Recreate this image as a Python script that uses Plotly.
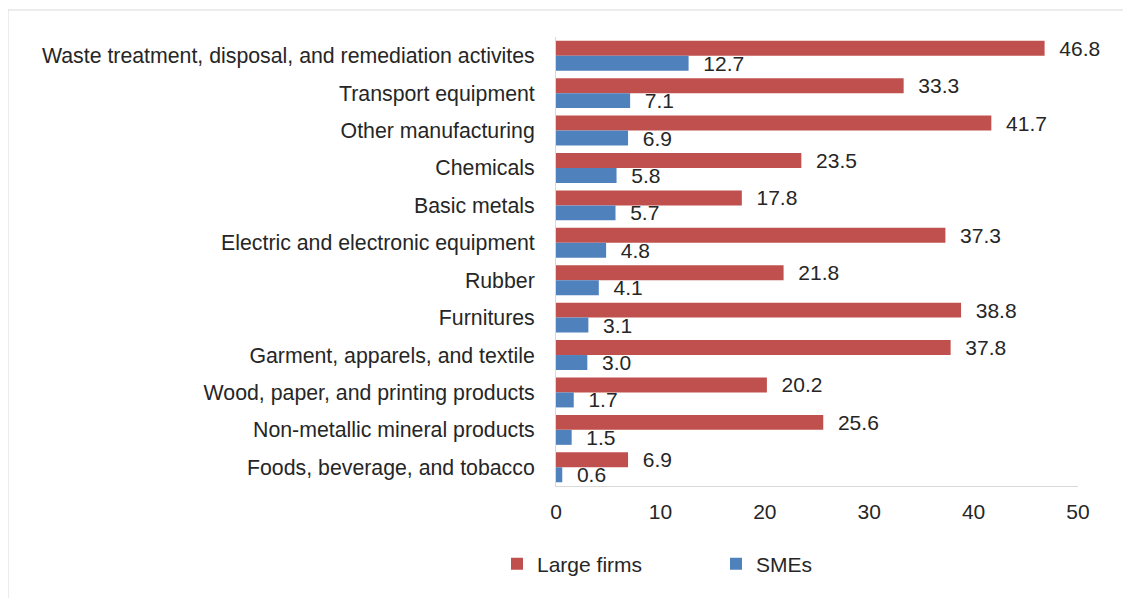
import plotly.graph_objects as go

categories = [
    "Waste treatment, disposal, and remediation activites",
    "Transport equipment",
    "Other manufacturing",
    "Chemicals",
    "Basic metals",
    "Electric and electronic equipment",
    "Rubber",
    "Furnitures",
    "Garment, apparels, and textile",
    "Wood, paper, and printing products",
    "Non-metallic mineral products",
    "Foods, beverage, and tobacco",
]
large_firms = [46.8, 33.3, 41.7, 23.5, 17.8, 37.3, 21.8, 38.8, 37.8, 20.2, 25.6, 6.9]
smes = [12.7, 7.1, 6.9, 5.8, 5.7, 4.8, 4.1, 3.1, 3.0, 1.7, 1.5, 0.6]
x_ticks = [0, 10, 20, 30, 40, 50]

# page body has an 8px default margin; work in figure pixels = screen - 8
OFF = 8
W, H = 1131 - OFF, 598 - OFF
ML = 556 - OFF
MR = W - (1078 - OFF)
MT = 37 - OFF
MB = H - (486 - OFF)
FONT = "Liberation Sans, Arial, sans-serif"
TXT = "#262626"
FS = 21
pad = "\u00a0\u00a0"

fig = go.Figure()
fig.add_trace(go.Bar(
    y=categories, x=large_firms, orientation="h", name="Large firms",
    marker=dict(color="#C0504D", line=dict(width=0)),
    text=[pad + f"{v:.1f}" for v in large_firms], textposition="outside",
    constraintext="none",
    textfont=dict(family=FONT, size=FS, color=TXT), cliponaxis=False,
))
fig.add_trace(go.Bar(
    y=categories, x=smes, orientation="h", name="SMEs",
    marker=dict(color="#4F81BD", line=dict(width=0)),
    text=[pad + f"{v:.1f}" for v in smes], textposition="outside",
    constraintext="none",
    textfont=dict(family=FONT, size=FS, color=TXT), cliponaxis=False,
))

pw = W - ML - MR
ph = H - MT - MB
def px_x(x):
    return (x - OFF - ML) / pw
def px_y(y):
    return (H - (y - OFF) - MB) / ph

fig.add_shape(type="rect", xref="paper", yref="paper",
              x0=px_x(8), x1=px_x(1131 + 20),
              y0=px_y(598 + 20), y1=px_y(10),
              line=dict(color="#d9d9d9", width=1), fillcolor="rgba(0,0,0,0)", layer="below")

fig.update_layout(
    width=W, height=H,
    margin=dict(l=ML, r=MR, t=MT, b=MB),
    paper_bgcolor="white", plot_bgcolor="white",
    barmode="group", bargap=0.2, bargroupgap=0,
    font=dict(family=FONT, size=FS, color=TXT),
    showlegend=True,
    legend=dict(orientation="h", x=px_x(497), xanchor="left",
                y=px_y(564), yanchor="middle",
                font=dict(family=FONT, size=FS, color=TXT),
                entrywidth=174, entrywidthmode="pixels"),
)
fig.update_xaxes(range=[0, 50], tickvals=x_ticks, showgrid=False, zeroline=False,
                 showline=True, linecolor="#d9d9d9", linewidth=1, ticks="",
                 ticklabelstandoff=7,
                 tickfont=dict(family=FONT, size=FS, color=TXT), fixedrange=True)
fig.update_yaxes(autorange="reversed", showgrid=False, showline=True,
                 linecolor="#d9d9d9", linewidth=1, ticks="",
                 ticklabelstandoff=16,
                 tickfont=dict(family=FONT, size=21.3, color=TXT))

fig.write_html("out.html")
